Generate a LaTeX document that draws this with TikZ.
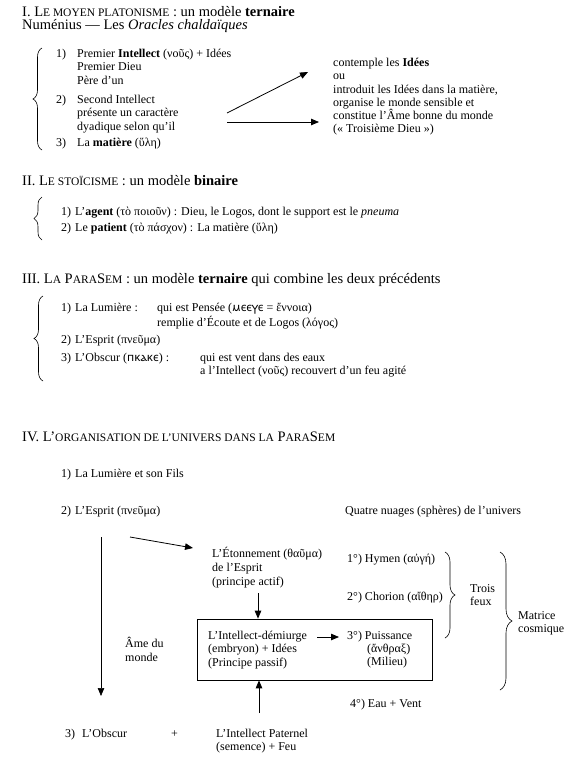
\documentclass[tikz,border=0pt]{standalone}
\usepackage{fontspec}
\setmainfont{Liberation Serif}
\IfFontExistsTF{Noto Sans Coptic}{\newfontfamily\copt{Noto Sans Coptic}}{\newfontfamily\copt{DejaVu Sans}}
\usetikzlibrary{decorations.pathreplacing,arrows.meta}
\newcommand\fsc[1]{{\fontsize{11.5}{13}\selectfont #1}}
\newcommand\cop[1]{{\copt\fontsize{11.5}{12}\selectfont #1}}
\begin{document}
\begin{tikzpicture}[x=1pt,y=-1pt,
  txt/.style={inner sep=0pt, anchor=north west, align=left, font=\fontsize{12}{13.8}\selectfont},
  ttl/.style={inner sep=0pt, anchor=base west, font=\fontsize{14.5}{15}\selectfont},
  arr/.style={-{Triangle[length=8pt,width=6.5pt]}, line width=0.8pt},
  brc/.style={decorate, decoration={brace, amplitude=#1}, line width=0.6pt},
  brc/.default=9pt,
  boxst/.style={draw, line width=0.7pt, inner sep=0pt, minimum width=235pt, minimum height=61pt}
]
\useasboundingbox (0,0) rectangle (575,758);

% ---------- Section I
\node[ttl] (t1) at (22,16) {I. L\fsc{E MOYEN PLATONISME} : un modèle \textbf{ternaire}};
\node[ttl] (t1b) at (22,29) {Numénius — Les \textit{Oracles chaldaïques}};
\draw[brc] (42,150) -- (42,48);
\node[txt] (i1n) at (56,47.3) {\strut 1)};
\node[txt] (i1) at (77,47.3) {\strut Premier \textbf{Intellect} (νοῦς) + Idées\\Premier Dieu\\Père d’un};
\node[txt] (i2n) at (56,93.3) {\strut 2)};
\node[txt] (i2) at (77,93.3) {\strut Second Intellect\\présente un caractère\\dyadique selon qu’il};
\node[txt] (i3n) at (56,136.3) {\strut 3)};
\node[txt] (i3) at (77,136.3) {\strut La \textbf{matière} (ὕλη)};
\coordinate (a1s) at (227,113);
\coordinate (a1e) at (308,72);
\coordinate (a2s) at (227,122);
\coordinate (a2e) at (319,122);
\draw[arr] (a1s) -- (a1e);
\draw[arr] (a2s) -- (a2e);
\node[txt, font=\fontsize{12}{13.2}\selectfont] (r1) at (333,57.3) {\strut contemple les \textbf{Idées}\\ou\\introduit les Idées dans la matière,\\organise le monde sensible et\\constitue l’Âme bonne du monde\\(« Troisième Dieu »)};

% ---------- Section II
\node[ttl] (t2) at (22,185) {II. L\fsc{E STOÏCISME} : un modèle \textbf{binaire}};
\draw[brc=8pt] (42,240) -- (42,197);
\node[txt] (s1n) at (61,205.3) {\strut 1)};
\node[txt] (s1) at (75,205.3) {\strut L’\textbf{agent} (τὸ ποιοῦν) : Dieu, le Logos, dont le support est le \textit{pneuma}};
\node[txt] (s2n) at (61,221.3) {\strut 2)};
\node[txt] (s2) at (75,221.3) {\strut Le \textbf{patient} (τὸ πάσχον) : La matière (ὕλη)};

% ---------- Section III
\node[ttl] (t3) at (22,283) {III. L\fsc{A} P\fsc{ARA}S\fsc{EM} : un modèle \textbf{ternaire} qui combine les deux précédents};
\draw[brc] (43,381) -- (43,296);
\node[txt] (p1n) at (61,301.3) {\strut 1)};
\node[txt] (p1) at (75,301.3) {\strut La Lumière :};
\node[txt] (p1b) at (157,301.3) {\strut qui est Pensée (\cop{ⲙⲉⲉⲩⲉ} = ἔννοια)\\remplie d’Écoute et de Logos (λόγος)};
\node[txt] (p2n) at (61,333.3) {\strut 2)};
\node[txt] (p2) at (75,333.3) {\strut L’Esprit (πνεῦμα)};
\node[txt] (p3n) at (61,351.3) {\strut 3)};
\node[txt] (p3) at (75,351.3) {\strut L’Obscur (\cop{ⲡⲕⲁⲕⲉ}) :};
\node[txt] (p3b) at (200,351.3) {\strut qui est vent dans des eaux\\a l’Intellect (νοῦς) recouvert d’un feu agité};

% ---------- Section IV
\node[ttl] (t4) at (22,441) {IV. L’\fsc{ORGANISATION DE L’UNIVERS DANS LA} P\fsc{ARA}S\fsc{EM}};
\node[txt] (u1n) at (61,467.3) {\strut 1)};
\node[txt] (u1) at (75,467.3) {\strut La Lumière et son Fils};
\node[txt] (u2n) at (61,504.3) {\strut 2)};
\node[txt] (u2) at (75,504.3) {\strut L’Esprit (πνεῦμα)};
\node[txt] (quatre) at (345,504.3) {\strut Quatre nuages (sphères) de l’univers};

\coordinate (vs) at (101,537);
\coordinate (ve) at (101,696);
\draw[arr, line width=0.6pt] (vs) -- (ve);
\coordinate (es) at (130,537);
\coordinate (ee) at (193,548);
\draw[arr] (es) -- (ee);

\node[txt] (eton) at (212,547.3) {\strut L’Étonnement (θαῦμα)\\de l’Esprit\\(principe actif)};
\node[boxst] (box) at (314.5,649.5) {};
\coordinate (d1s) at (258,593);
\draw[arr] (d1s) -- (box.north -| d1s);
\node[txt] (dem) at (208,629.3) {\strut L’Intellect-démiurge\\(embryon) + Idées\\(Principe passif)};
\coordinate (hs) at (317,637);
\coordinate (he) at (339,637);
\draw[arr] (hs) -- (he);
\node[txt] (ame) at (125,637.3) {\strut Âme du\\monde};

\node[txt] (h1) at (347,552.3) {\strut 1°) Hymen (αὐγή)};
\node[txt] (h2) at (347,590.3) {\strut 2°) Chorion (αἴθηρ)};
\node[txt] (h3) at (347,629.3) {\strut 3°) Puissance};
\node[txt] (h3b) at (367,642.3) {\strut (ἄνθραξ)\\(Milieu)};
\node[txt] (h4) at (350,697.3) {\strut 4°) Eau + Vent};
\draw[brc=10pt] (445,552) -- (445,638);
\node[txt] (trois) at (470,582.3) {\strut Trois\\feux};
\draw[brc=12pt] (500,552) -- (500,690);
\node[txt] (matrice) at (518,609.3) {\strut Matrice\\cosmique};

\coordinate (us) at (259,713);
\draw[arr] (us) -- (box.south -| us);
\node[txt] (o3n) at (65,727.3) {\strut 3)};
\node[txt] (o3) at (82,727.3) {\strut L’Obscur};
\node[txt] (plus) at (171,727.3) {\strut +};
\node[txt] (pat) at (216,727.3) {\strut L’Intellect Paternel\\(semence) + Feu};
\end{tikzpicture}
\end{document}
